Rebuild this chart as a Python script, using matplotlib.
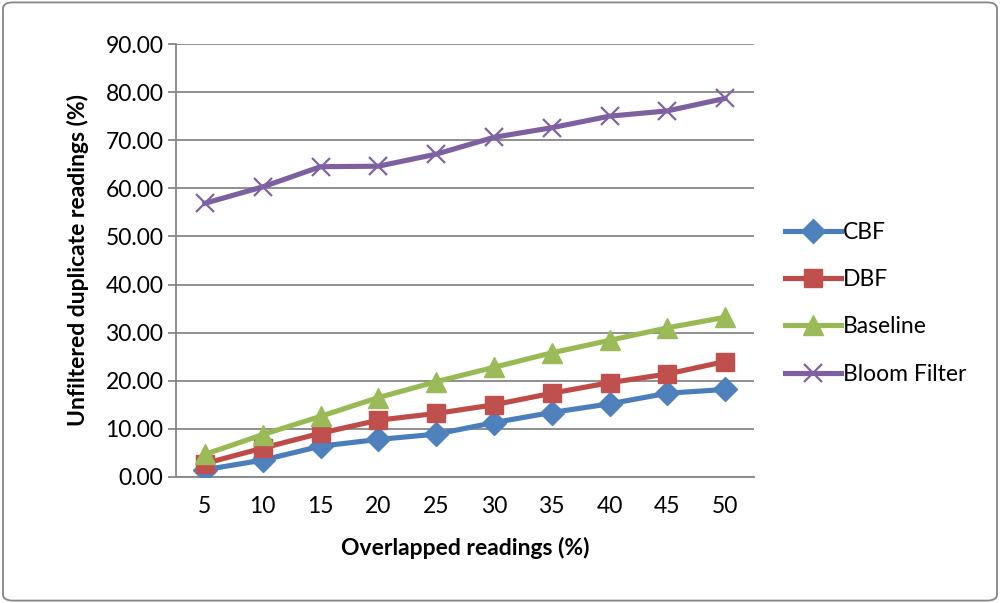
import matplotlib
matplotlib.use("Agg")
import matplotlib.pyplot as plt
from matplotlib.patches import FancyBboxPatch

plt.rcParams['font.family'] = ['Lato', 'DejaVu Sans']

x_labels = ['5', '10', '15', '20', '25', '30', '35', '40', '45', '50']
cbf = [1.5, 3.5, 6.4, 7.8, 8.9, 11.3, 13.4, 15.2, 17.4, 18.2]
dbf = [2.8, 6.0, 9.1, 11.8, 13.2, 15.0, 17.4, 19.6, 21.4, 24.0]
baseline = [4.7, 8.8, 12.6, 16.5, 19.8, 22.8, 25.8, 28.4, 31.0, 33.2]
bloom = [56.9, 60.3, 64.5, 64.6, 67.1, 70.6, 72.6, 75.0, 76.1, 78.7]
y_ticks = [0, 10, 20, 30, 40, 50, 60, 70, 80, 90]

FS = 16.5

fig = plt.figure(figsize=(10, 6.03), dpi=100)
ax = fig.add_axes([0.176, 0.209, 0.578, 0.718])

xs = list(range(len(x_labels)))
series = [
    ('CBF', cbf, '#4A7EBB', '#4F81BD', 'D', 12),
    ('DBF', dbf, '#BE4B48', '#C0504D', 's', 13),
    ('Baseline', baseline, '#98B954', '#9BBB59', '^', 14),
    ('Bloom Filter', bloom, '#7D60A0', '#8064A2', 'x', 13),
]
for name, vals, lc, mc, m, ms in series:
    ax.plot(xs, vals, color=lc, lw=3.7, marker=m, markersize=ms,
            markerfacecolor=mc, markeredgecolor=mc,
            markeredgewidth=1.6 if m == 'x' else 1, label=name, zorder=3)

ax.set_xlim(-0.5, len(x_labels) - 0.5)
ax.set_ylim(0, 90)
ax.set_yticks(y_ticks)
ax.set_yticklabels([f'{v:.2f}' for v in y_ticks])
ax.set_xticks(xs)
ax.set_xticklabels(x_labels)
ax.grid(axis='y', color='#868686', lw=1.3)
ax.set_axisbelow(True)
for s in ['top', 'right']:
    ax.spines[s].set_visible(False)
for s in ['left', 'bottom']:
    ax.spines[s].set_color('#868686')
    ax.spines[s].set_linewidth(1.3)
ax.tick_params(axis='y', length=6, color='#868686', width=1.3, labelsize=FS, pad=3)
ax.tick_params(axis='x', length=0, labelsize=FS, pad=14)
ax.set_xlabel('Overlapped readings (%)', fontsize=FS, fontweight='bold', labelpad=14)
ax.set_ylabel('Unfiltered duplicate readings (%)', fontsize=FS, fontweight='bold', labelpad=12)

leg = fig.legend(loc='center left', bbox_to_anchor=(0.764, 0.497), frameon=False,
                 fontsize=FS, handlelength=2.45, handletextpad=0.1, labelspacing=1.15)

border = FancyBboxPatch((0.003, 0.004), 0.994, 0.992, boxstyle='round,pad=0,rounding_size=0.01',
                        transform=fig.transFigure, fill=False, edgecolor='#868686', lw=1.3)
fig.patches.append(border)

fig.savefig('out.png', dpi=100)
